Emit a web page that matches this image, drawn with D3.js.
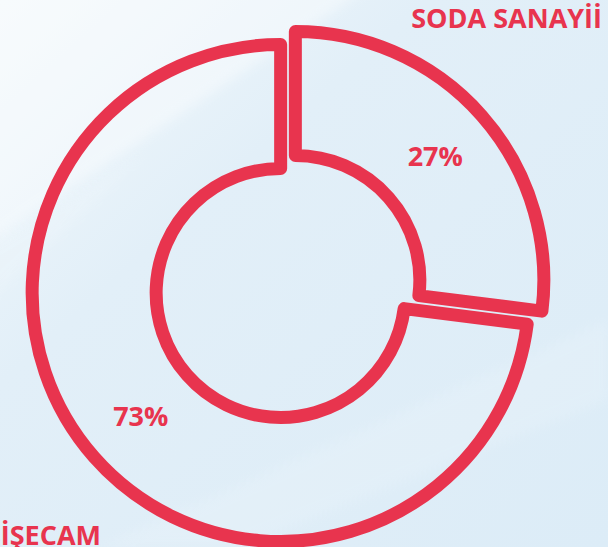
<!DOCTYPE html>
<html lang="en">
<head>
<meta charset="utf-8">
<title>Pay dağılımı</title>
<style>
  body { margin: 0; padding: 0; overflow: hidden; }
  svg { display: block; }
</style>
<script src="https://cdn.jsdelivr.net/npm/d3@7/dist/d3.min.js"></script>
</head>
<body>
<div id="chart"></div>
<script>
// data
const categories = ['SODA SANAYİİ', 'ŞİŞECAM'];
const values = [27, 73];
const valueLabels = ['27%', '73%'];

const width = 608, height = 547;
const red = '#e8344e';
const cx = 288, cy = 286.5;
const innerR = 124.5, outerR = 248.5;
const explode = 9.8;

const svg = d3.select('#chart').append('svg')
  .attr('width', width)
  .attr('height', height);

// background
const defs = svg.append('defs');
const grad = defs.append('linearGradient')
  .attr('id', 'bg')
  .attr('x1', '0%').attr('y1', '0%')
  .attr('x2', '100%').attr('y2', '100%');
grad.append('stop').attr('offset', '0%').attr('stop-color', '#f3f9fc');
grad.append('stop').attr('offset', '35%').attr('stop-color', '#e2eff8');
grad.append('stop').attr('offset', '100%').attr('stop-color', '#dcecf7');

defs.append('filter')
  .attr('id', 'soft')
  .append('feGaussianBlur')
  .attr('stdDeviation', 6);

svg.append('rect')
  .attr('width', width)
  .attr('height', height)
  .attr('fill', 'url(#bg)');

// soft light streaks
const streaks = [
  [[-20, -20], [380, -20], [-20, 250]],
  [[-20, 250], [150, 150], [-20, 310]],
  [[100, 547], [608, 320], [608, 400], [240, 547]]
];
svg.selectAll('path.streak')
  .data(streaks)
  .join('path')
  .attr('class', 'streak')
  .attr('d', d => 'M' + d.join('L') + 'Z')
  .attr('fill', '#ffffff')
  .attr('filter', 'url(#soft)')
  .attr('opacity', (d, i) => i === 0 ? 0.4 : 0.12);

// donut
const pie = d3.pie().sort(null).value(d => d);
const arc = d3.arc().innerRadius(innerR).outerRadius(outerR);
const arcs = pie(values);

const g = svg.append('g').attr('transform', `translate(${cx},${cy})`);

const slice = g.selectAll('g.slice')
  .data(arcs)
  .join('g')
  .attr('class', 'slice')
  .attr('transform', d => {
    const a = (d.startAngle + d.endAngle) / 2;
    return `translate(${explode * Math.sin(a)},${-explode * Math.cos(a)})`;
  });

slice.append('path')
  .attr('d', arc)
  .attr('fill', 'none')
  .attr('stroke', red)
  .attr('stroke-width', 13)
  .attr('stroke-linejoin', 'round');

slice.append('text')
  .attr('transform', d => `translate(${arc.centroid(d)})`)
  .attr('text-anchor', 'middle')
  .attr('dy', '0.36em')
  .attr('font-family', 'Open Sans')
  .attr('font-weight', 'bold')
  .attr('font-size', 27)
  .attr('fill', red)
  .text((d, i) => valueLabels[i]);

// category names (the second one runs off the corner, as in the source)
const namePos = [
  { x: 602, y: 28 },
  { x: 101, y: 545 }
];
svg.selectAll('text.name')
  .data(categories)
  .join('text')
  .attr('class', 'name')
  .attr('x', (d, i) => namePos[i].x)
  .attr('y', (d, i) => namePos[i].y)
  .attr('text-anchor', 'end')
  .attr('font-family', 'Open Sans')
  .attr('font-weight', 'bold')
  .attr('font-size', 27)
  .attr('fill', red)
  .text(d => d);
</script>
</body>
</html>
